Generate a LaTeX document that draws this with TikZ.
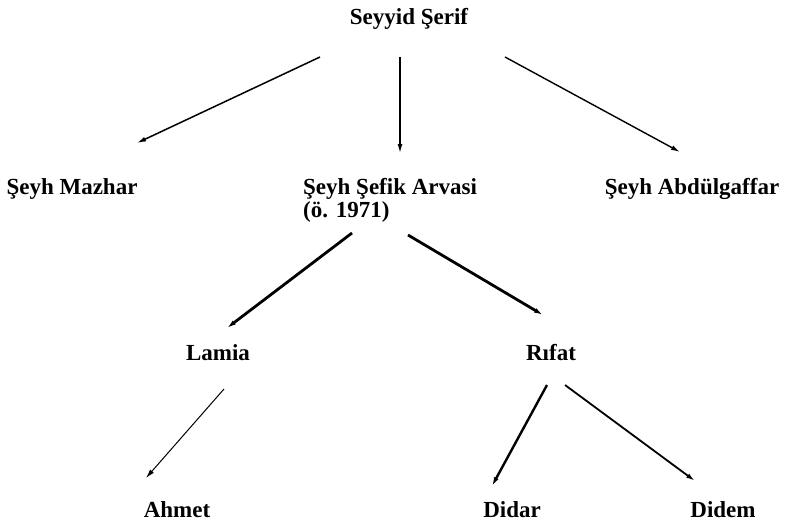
\documentclass[tikz,border=0pt]{standalone}
\usepackage{fontspec}
\setmainfont{Liberation Serif}
\usetikzlibrary{arrows.meta}
\begin{document}
\begin{tikzpicture}[x=1pt,y=-1pt,
  lbl/.style={inner sep=0pt,font=\fontsize{23}{23}\selectfont\bfseries},
  arr/.style={-{Latex[length=9pt,width=5pt]},line width=#1},
  arr/.default=1.2pt]
\useasboundingbox (0,0) rectangle (788,522);
\node[lbl,anchor=base] (top) at (409,24) {Seyyid Şerif};
\node[lbl,anchor=base] (mazhar) at (72,194) {Şeyh Mazhar};
\node[lbl,anchor=north west,align=left] (sefik) at (303,178) {Şeyh Şefik Arvasi\\(ö. 1971)};
\node[lbl,anchor=base] (abdul) at (692,194) {Şeyh Abdülgaffar};
\node[lbl,anchor=base] (lamia) at (218,360) {Lamia};
\node[lbl,anchor=base] (rifat) at (551,360) {Rıfat};
\node[lbl,anchor=base] (ahmet) at (177,517) {Ahmet};
\node[lbl,anchor=base] (didar) at (512,517) {Didar};
\node[lbl,anchor=base] (didem) at (723,517) {Didem};
\draw[arr=1.5pt] ([shift={(-89,33)}]top.base) -- ([shift={(65,-51)}]mazhar.base);
\draw[arr=1.4pt] ([shift={(-9,33)}]top.base) -- ([shift={(97,-25)}]sefik.north west);
\draw[arr=1.4pt] ([shift={(96,33)}]top.base) -- ([shift={(-12,-42)}]abdul.base);
\draw[arr=2.8pt] ([shift={(49,55)}]sefik.north west) -- ([shift={(9,-32)}]lamia.base);
\draw[arr=2.8pt] ([shift={(105,57)}]sefik.north west) -- ([shift={(-8,-45)}]rifat.base);
\draw[arr=1pt] ([shift={(6,29)}]lamia.base) -- ([shift={(-31,-39)}]ahmet.base);
\draw[arr=2.4pt] ([shift={(-4,25)}]rifat.base) -- ([shift={(-20,-31)}]didar.base);
\draw[arr=1.8pt] ([shift={(14,25)}]rifat.base) -- ([shift={(-28,-36)}]didem.base);
\end{tikzpicture}
\end{document}
